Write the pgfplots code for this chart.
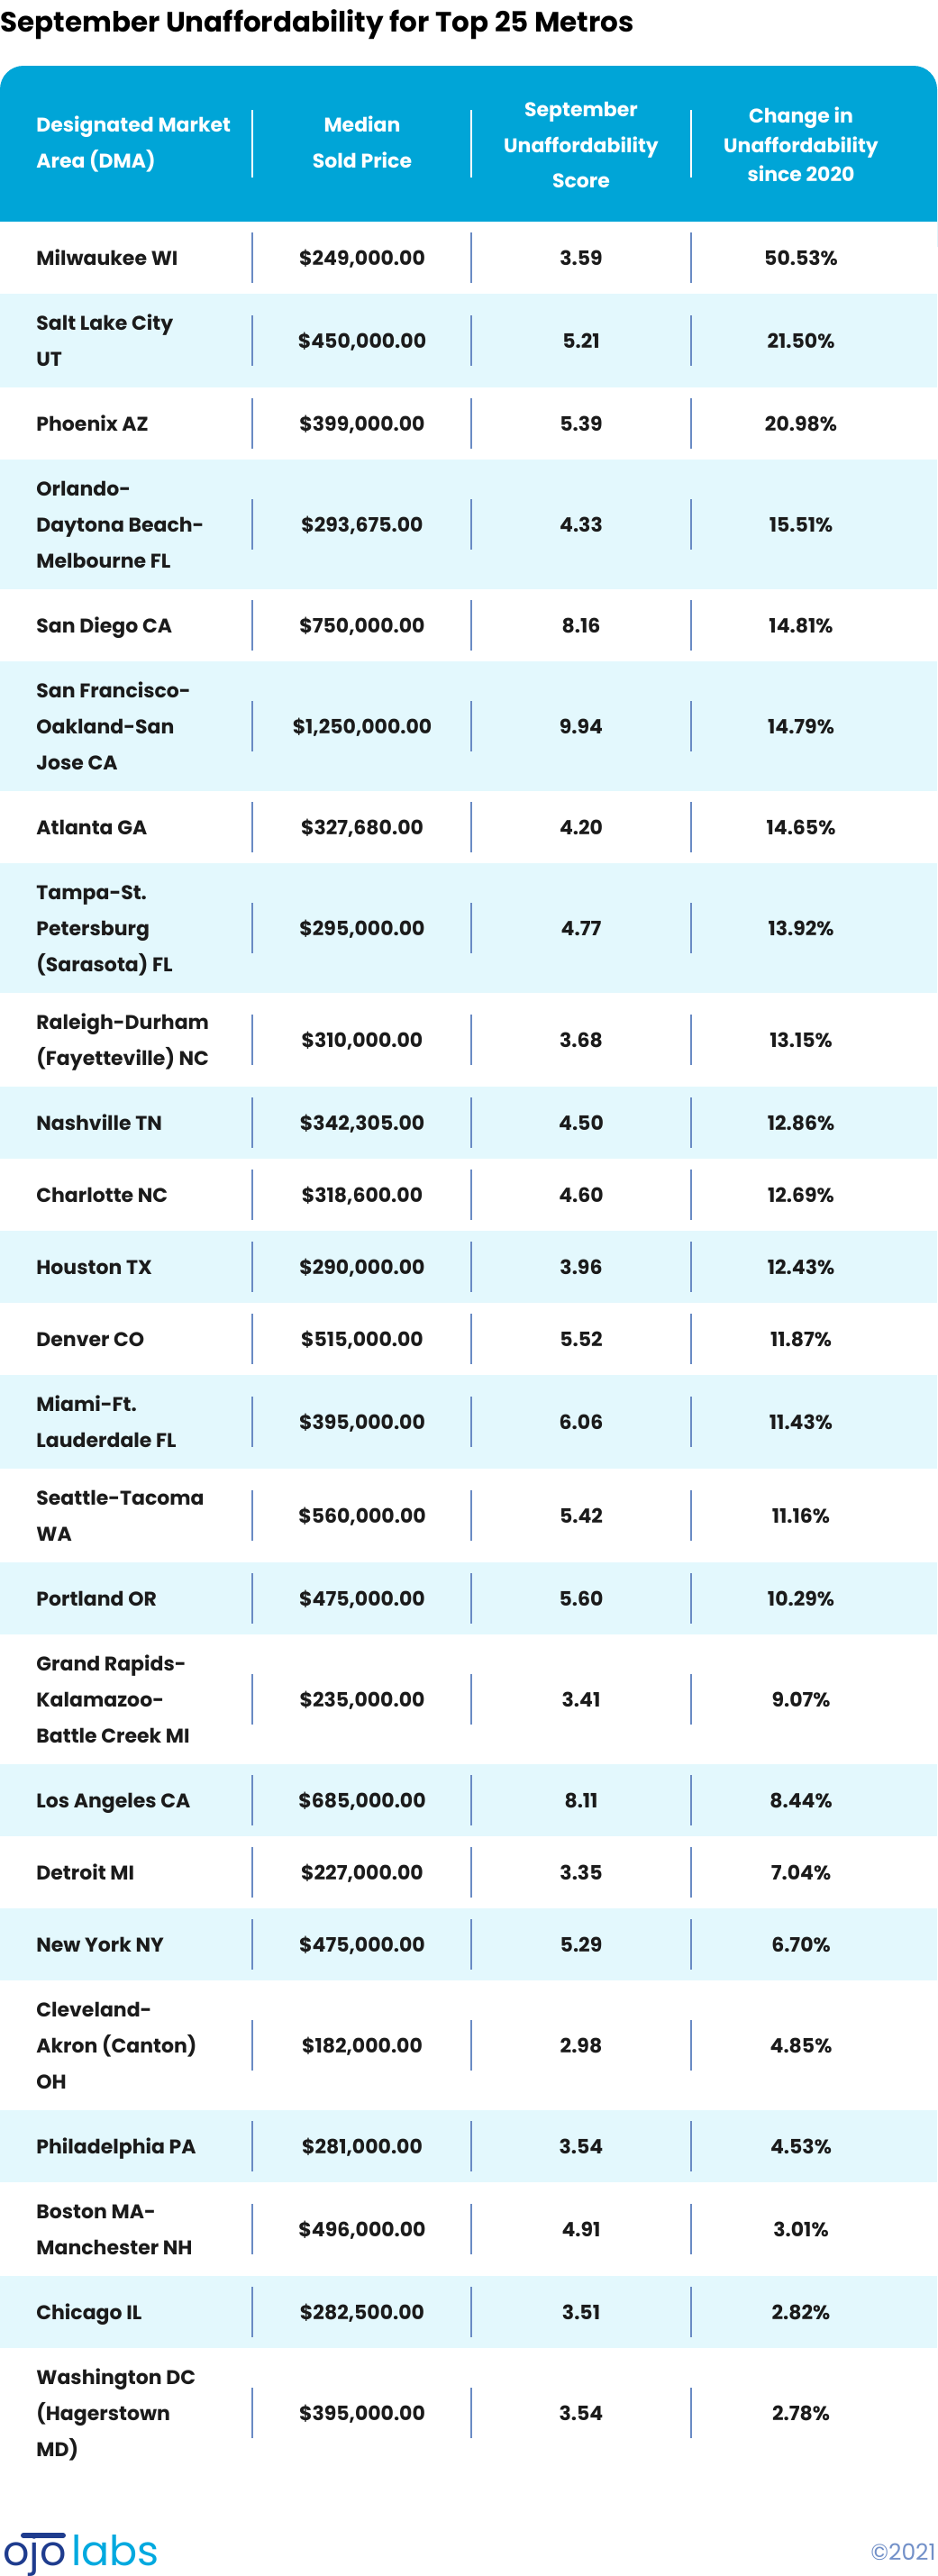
\documentclass[border=0pt]{standalone}
\usepackage{pgfplots}
\pgfplotsset{compat=1.18}
\usepackage{pgfplotstable}
\usepackage{fontspec}
\setmainfont{Poppins}
\definecolor{hdr}{HTML}{00A5D7}
\definecolor{band}{HTML}{E3F8FD}
\definecolor{sepc}{HTML}{6A8BC4}
\definecolor{txt}{HTML}{1B1B1B}
\definecolor{navy}{HTML}{1F3C8E}
\definecolor{logocyan}{HTML}{00A9DF}
\definecolor{copyc}{HTML}{7290C8}

% y = vertical centre of each table row (pixels from the top)
\pgfplotstableread[col sep=semicolon]{
y;price;score;change
286;249000;3.59;50.53
378;450000;5.21;21.50
470;399000;5.39;20.98
582;293675;4.33;15.51
694;750000;8.16;14.81
806;1250000;9.94;14.79
918;327680;4.20;14.65
1030;295000;4.77;13.92
1154;310000;3.68;13.15
1246;342305;4.50;12.86
1326;318600;4.60;12.69
1406;290000;3.96;12.43
1486;515000;5.52;11.87
1578;395000;6.06;11.43
1682;560000;5.42;11.16
1774;475000;5.60;10.29
1886;235000;3.41;9.07
1998;685000;8.11;8.44
2078;227000;3.35;7.04
2158;475000;5.29;6.70
2270;182000;2.98;4.85
2382;281000;3.54;4.53
2474;496000;4.91;3.01
2566;282500;3.51;2.82
2678;395000;3.54;2.78
}\rows

\pgfplotstableread[col sep=semicolon]{
y;name
286;Milwaukee WI
358;Salt Lake City
398;UT
470;Phoenix AZ
542;Orlando-
582;Daytona Beach-
622;Melbourne FL
694;San Diego CA
766;San Francisco-
806;Oakland-San
846;Jose CA
918;Atlanta GA
990;Tampa-St.
1030;Petersburg
1070;(Sarasota) FL
1134;Raleigh-Durham
1174;(Fayetteville) NC
1246;Nashville TN
1326;Charlotte NC
1406;Houston TX
1486;Denver CO
1558;Miami-Ft.
1598;Lauderdale FL
1662;Seattle-Tacoma
1702;WA
1774;Portland OR
1846;Grand Rapids-
1886;Kalamazoo-
1926;Battle Creek MI
1998;Los Angeles CA
2078;Detroit MI
2158;New York NY
2230;Cleveland-
2270;Akron (Canton)
2310;OH
2382;Philadelphia PA
2454;Boston MA-
2494;Manchester NH
2566;Chicago IL
2638;Washington DC
2678;(Hagerstown
2718;MD)
}\names

\newcommand\band[2]{\addplot[fill=band,draw=none] coordinates {(0,#1) (1040,#1) (1040,#2) (0,#2)} -- cycle;}

\begin{document}
\begin{tikzpicture}
\begin{axis}[
  width=520pt, height=1429.5pt, scale only axis,
  xmin=0, xmax=1040, ymin=0, ymax=2859, y dir=reverse,
  hide axis, clip=false,
  /pgf/number format/assume math mode=true,
  every node near coord/.append style={anchor=base, text=txt, font=\fontsize{11}{13}\selectfont\bfseries, inner sep=0pt},
]
% header box
\addplot[fill=hdr, draw=none, rounded corners=13pt] coordinates {(0,300) (0,73) (1040,73) (1040,300)} -- cycle;
\addplot[fill=white, draw=none] coordinates {(0,246) (1040,246) (1040,320) (0,320)} -- cycle;
% banded rows
\band{326}{430}
\band{510}{654}
\band{734}{878}
\band{958}{1102}
\band{1206}{1286}
\band{1366}{1446}
\band{1526}{1630}
\band{1734}{1814}
\band{1958}{2038}
\band{2118}{2198}
\band{2342}{2422}
\band{2526}{2606}
% header separators
\addplot[draw=none, mark=none, error bars/.cd, y dir=both, y fixed=37.5, error mark=none,
  error bar style={draw=white, line width=1pt}] coordinates {(280,159.5) (523,159.5) (767,159.5)};
% row separators
\addplot[draw=none, mark=none, error bars/.cd, y dir=both, y fixed=28, error mark=none,
  error bar style={draw=sepc, line width=1pt}] table[x expr=280, y=y] {\rows};
\addplot[draw=none, mark=none, error bars/.cd, y dir=both, y fixed=28, error mark=none,
  error bar style={draw=sepc, line width=1pt}] table[x expr=523, y=y] {\rows};
\addplot[draw=none, mark=none, error bars/.cd, y dir=both, y fixed=28, error mark=none,
  error bar style={draw=sepc, line width=1pt}] table[x expr=767, y=y] {\rows};
% names
\addplot[draw=none, mark=none, point meta=explicit symbolic, nodes near coords,
  every node near coord/.append style={anchor=base west}]
  table[x expr=40, y expr=\thisrow{y}+8, meta=name] {\names};
% prices
\addplot[draw=none, mark=none, point meta=explicit,
  nodes near coords={\$\pgfmathprintnumber[fixed, fixed zerofill, precision=2, 1000 sep={,}]{\pgfplotspointmeta}}]
  table[x expr=402, y expr=\thisrow{y}+8, meta=price] {\rows};
% scores
\addplot[draw=none, mark=none, point meta=explicit,
  nodes near coords={\pgfmathprintnumber[fixed, fixed zerofill, precision=2]{\pgfplotspointmeta}}]
  table[x expr=645, y expr=\thisrow{y}+8, meta=score] {\rows};
% change
\addplot[draw=none, mark=none, point meta=explicit,
  nodes near coords={\pgfmathprintnumber[fixed, fixed zerofill, precision=2]{\pgfplotspointmeta}\%}]
  table[x expr=889, y expr=\thisrow{y}+8, meta=change] {\rows};

% title
\node[anchor=base west, inner sep=0pt, font=\fontsize{15.5}{17}\selectfont\bfseries, text=black]
  at (axis cs:0,35) {September Unaffordability for Top 25 Metros};
% header text
\begin{scope}[every node/.style={anchor=base, inner sep=0pt, text=white, font=\fontsize{11}{13}\selectfont\bfseries}]
\node[anchor=base west] at (axis cs:40,146) {Designated Market};
\node[anchor=base west] at (axis cs:40,186) {Area (DMA)};
\node at (axis cs:402,146) {Median};
\node at (axis cs:402,186) {Sold Price};
\node at (axis cs:645,129) {September};
\node at (axis cs:645,169) {Unaffordability};
\node at (axis cs:645,208) {Score};
\node at (axis cs:889,136) {Change in};
\node at (axis cs:889,169) {Unaffordability};
\node at (axis cs:889,201) {since 2020};
\end{scope}
% footer
\draw[navy, line width=3pt, line cap=round] (axis cs:26,2814) -- (axis cs:70,2814);
\node[anchor=base east, inner sep=0pt, text=navy, font=\fontsize{23}{25}\selectfont] at (axis cs:74,2847) {ojo};
\node[anchor=base west, inner sep=0pt, text=logocyan, font=\fontsize{23}{25}\selectfont] at (axis cs:79,2847) {labs};
\node[anchor=base east, inner sep=0pt, text=copyc, font=\fontsize{12.5}{14}\selectfont] at (axis cs:1039,2841) {©2021};
\coordinate (TL) at (axis cs:0,0);
\coordinate (BR) at (axis cs:1040,2859);
\end{axis}
\pgfresetboundingbox
\useasboundingbox (TL) rectangle (BR);
\end{tikzpicture}
\end{document}
